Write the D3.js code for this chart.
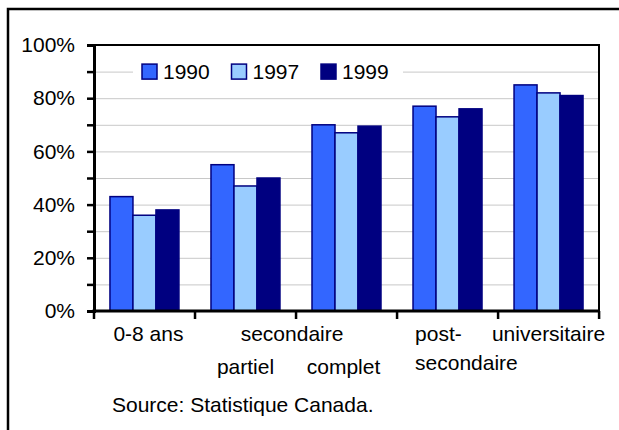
<!DOCTYPE html>
<html>
<head>
<meta charset="utf-8">
<script src="https://cdn.jsdelivr.net/npm/d3@7"></script>
<style>
  body { margin: 0; background: #fff; }
  svg text { font-family: "Liberation Sans", Arial, sans-serif; fill: #000; }
</style>
</head>
<body>
<div id="chart"></div>
<script>
// data
const categories = ["0-8 ans", "secondaire partiel", "secondaire complet", "post-secondaire", "universitaire"]
const years = ["1990", "1997", "1999"]
const v1990 = [43, 55, 70, 77, 85]
const v1997 = [36, 47, 67, 73, 82]
const v1999 = [38, 50, 69.5, 76, 81]
const yTicks = [0, 20, 40, 60, 80, 100]
const colors = ["#3366ff", "#99ccff", "#000080"]

const width = 619, height = 430
const margin = { top: 45, right: 20, bottom: 119, left: 94 }
const fontSize = 21

const series = years.map((yr, i) => ({ year: yr, values: [v1990, v1997, v1999][i] }))
const rows = categories.map((c, ci) => ({ cat: c, vals: series.map(s => ({ year: s.year, v: s.values[ci] })) }))

const svg = d3.select("#chart").append("svg")
  .attr("width", width)
  .attr("height", height)

// outer frame (runs off the right and bottom edges)
svg.append("rect")
  .attr("x", 8).attr("y", 9)
  .attr("width", width + 20).attr("height", height + 20)
  .attr("fill", "none").attr("stroke", "#000").attr("stroke-width", 2.5)

const x = d3.scaleBand()
  .domain(categories)
  .range([margin.left, width - margin.right])
  .paddingInner(0.317)
  .paddingOuter(0.158)

const xYear = d3.scaleBand().domain(years).range([0, x.bandwidth()])

const y = d3.scaleLinear().domain([0, 100]).range([height - margin.bottom, margin.top])
const color = d3.scaleOrdinal(years, colors)

const x0 = margin.left, x1 = width - margin.right
const step = x.step()

// gridlines every 10%
svg.append("g")
  .selectAll("line")
  .data(d3.range(10, 100, 10))
  .join("line")
  .attr("x1", x0).attr("x2", x1)
  .attr("y1", d => y(d) + 0.5).attr("y2", d => y(d) + 0.5)
  .attr("stroke", "#c8c8c8").attr("stroke-width", 1)

// plot border top / right
svg.append("path")
  .attr("d", `M${x0},${y(100)}H${x1}V${y(0)}`)
  .attr("fill", "none").attr("stroke", "#000").attr("stroke-width", 2)

// bars
svg.append("g")
  .selectAll("g")
  .data(rows)
  .join("g")
  .attr("transform", d => `translate(${x(d.cat)},0)`)
  .selectAll("rect")
  .data(d => d.vals)
  .join("rect")
  .attr("x", d => xYear(d.year))
  .attr("y", d => y(d.v))
  .attr("width", xYear.bandwidth())
  .attr("height", d => y(0) - y(d.v))
  .attr("fill", d => color(d.year))
  .attr("stroke", "#000080")
  .attr("stroke-width", 1.5)

// y axis
const yAxis = svg.append("g")
  .attr("transform", `translate(${x0},0)`)
  .call(d3.axisLeft(y).tickValues(d3.range(0, 101, 10)).tickSize(7).tickFormat(d => yTicks.includes(d) ? d + "%" : ""))
yAxis.select(".domain").attr("stroke-width", 3)
yAxis.selectAll(".tick line").attr("stroke-width", 2.5)
yAxis.selectAll(".tick text")
  .attr("x", -19)
  .style("font-size", fontSize + "px")
  .style("font-family", "Liberation Sans, Arial, sans-serif")
  .attr("fill", "#000")

// x axis line + ticks at category boundaries
svg.append("line")
  .attr("x1", x0 - 1.5).attr("x2", x1 + 1)
  .attr("y1", y(0)).attr("y2", y(0))
  .attr("stroke", "#000").attr("stroke-width", 3)
svg.append("g")
  .selectAll("line")
  .data(d3.range(categories.length + 1))
  .join("line")
  .attr("x1", i => x0 + i * step).attr("x2", i => x0 + i * step)
  .attr("y1", y(0)).attr("y2", y(0) + 8)
  .attr("stroke", "#000").attr("stroke-width", 2.5)

// x labels, laid out like the original (two rows)
const cx = i => x(categories[i]) + x.bandwidth() / 2
const row1 = y(0) + 30, row2 = y(0) + 63
const xLabels = [
  { t: "0-8 ans", x: cx(0) + 4, y: row1, a: "middle" },
  { t: "secondaire", x: x0 + 2 * step - 4, y: row1, a: "middle" },
  { t: "partiel", x: cx(1), y: row2, a: "middle" },
  { t: "complet", x: cx(2) - 3, y: row2, a: "middle" },
  { t: "post-", x: x0 + 3 * step + 18, y: row1, a: "start" },
  { t: "secondaire", x: x0 + 3 * step + 18, y: row2 - 4, a: "start" },
  { t: "universitaire", x: cx(4), y: row1, a: "middle" }
]
svg.append("g")
  .selectAll("text")
  .data(xLabels)
  .join("text")
  .attr("x", d => d.x).attr("y", d => d.y)
  .attr("text-anchor", d => d.a)
  .style("font-size", fontSize + "px")
  .text(d => d.t)

// legend
const leg = svg.append("g").attr("transform", `translate(133,${y(90)})`)
leg.append("rect")
  .attr("x", 0).attr("y", -11).attr("width", 270).attr("height", 22)
  .attr("fill", "#fff")
const legItem = leg.selectAll("g")
  .data(years)
  .join("g")
  .attr("transform", (d, i) => `translate(${9 + i * 89.5},0)`)
legItem.append("rect")
  .attr("x", 0).attr("y", -7.5).attr("width", 15).attr("height", 15)
  .attr("fill", d => color(d))
  .attr("stroke", "#000080").attr("stroke-width", 1.5)
legItem.append("text")
  .attr("x", 21).attr("y", 0).attr("dy", "0.36em")
  .style("font-size", fontSize + "px")
  .text(d => d)

// source note
svg.append("text")
  .attr("x", 112).attr("y", 412)
  .style("font-size", fontSize + "px")
  .text("Source: Statistique Canada.")
</script>
</body>
</html>
